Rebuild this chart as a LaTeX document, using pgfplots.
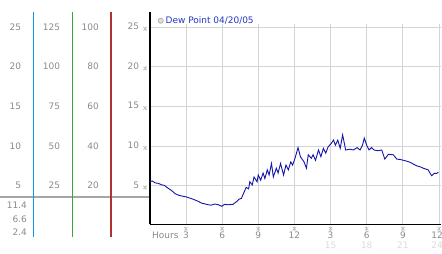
\documentclass[border=0pt]{standalone}
\usepackage{fontspec}
\setmainfont{DejaVu Sans}
\usepackage{pgfplots}
\pgfplotsset{compat=1.18}
\definecolor{tickgray}{HTML}{8A8A8A}
\definecolor{lightlab}{HTML}{DADADA}
\definecolor{gridgray}{HTML}{D4D4D4}
\definecolor{dewblue}{HTML}{1414A8}
\definecolor{titleblue}{HTML}{2236C0}
\definecolor{cyanline}{RGB}{20,150,230}
\definecolor{greenline}{RGB}{60,165,60}
\definecolor{redline}{RGB}{176,50,50}
\newcommand{\mk}{\tikz[baseline=-0.6bp]{\draw[gray!55, line width=0.5bp] (-1.8bp,-1.8bp)--(1.8bp,1.8bp) (-1.8bp,1.8bp)--(1.8bp,-1.8bp) (0,-2.2bp)--(0,2.2bp);}}
\newcommand{\lbl}{\fontsize{9}{11}\selectfont}
\newcommand{\xl}[2]{\mk\\[-1.5bp]#1\\[-1bp]\textcolor{lightlab}{#2}}
\newcommand{\yl}[1]{#1\hspace{4bp}\mk}
\begin{document}
\begin{tikzpicture}[x=1bp,y=1bp]
\path[use as bounding box] (0,0) rectangle (442,253);
\draw[gray!70, line width=1.8bp] (0,56) -- (149.8,56);
\pgfplotsset{leftscale/.style={scale only axis, width=1bp, height=225bp, anchor=south west,
  axis x line=none, axis y line=left, ytick style={draw=none}, major tick length=0pt,
  axis line style={draw=none},
  yticklabel style={anchor=east, inner sep=0pt, xshift=-12bp, font=\lbl, text=tickgray},
  xmin=0, xmax=1}}
\begin{axis}[leftscale, at={(33.3bp,16bp)}, ymin=-1.461, ymax=26.877,
  ytick={5,10,15,20,25}, yticklabels={5,10,15,20,25}]
\end{axis}
\begin{axis}[leftscale, at={(72.3bp,16bp)}, ymin=-7.305, ymax=134.385,
  ytick={25,50,75,100,125}, yticklabels={25,50,75,100,125}]
\end{axis}
\begin{axis}[leftscale, at={(111bp,16bp)}, ymin=-5.844, ymax=107.508,
  ytick={20,40,60,80,100}, yticklabels={20,40,60,80,100}]
\end{axis}
\begin{axis}[scale only axis, width=291bp, height=200bp, at={(149.8bp,29bp)}, anchor=south west,
  xmin=0, xmax=24.15, ymin=0.176, ymax=25.37, clip=false,
  axis lines*=left, axis line style={-},
  x axis line style={black, line width=1bp},
  y axis line style={black, line width=1.4bp, shorten >=-12bp},
  grid=major, grid style={gridgray, line width=0.8bp},
  tick style={draw=none}, major tick length=0pt,
  xtick={3,6,9,12,15,18,21,24},
  xticklabels={{\xl{3}{}},{\xl{6}{}},{\xl{9}{}},{\xl{12}{}},{\xl{3}{15}},{\xl{6}{18}},{\xl{9}{21}},{\xl{12\kern4bp}{24\kern4bp}}},
  xticklabel style={anchor=north, align=center, inner sep=0pt, yshift=-2bp, font=\lbl, text=tickgray},
  ytick={5,10,15,20,25},
  yticklabels={{\yl{5}},{\yl{10}},{\yl{15}},{\yl{20}},{\yl{25}}},
  yticklabel style={anchor=east, inner sep=0pt, xshift=-2.5bp, font=\lbl, text=tickgray}]
\addplot[dewblue, line width=0.9bp] coordinates {
(0.0,5.5) (0.2,5.6) (0.45,5.35) (0.7,5.3) (1.0,5.1) (1.2,5.05) (1.5,4.7) (1.8,4.4)
(2.1,4.0) (2.4,3.8) (2.65,3.7) (3.0,3.6) (3.2,3.5) (3.5,3.35) (3.75,3.2) (4.0,3.05)
(4.3,2.8) (4.6,2.7) (4.85,2.6) (5.1,2.55) (5.4,2.7) (5.7,2.6) (5.97,2.4) (6.2,2.65)
(6.5,2.6) (6.9,2.65) (7.2,3.0) (7.4,3.3) (7.6,3.4) (7.8,4.1) (8.0,4.8) (8.2,4.6)
(8.3,5.5) (8.5,5.1) (8.65,6.1) (8.9,5.5) (9.0,6.35) (9.2,5.7) (9.4,6.6) (9.55,5.9)
(9.75,7.0) (9.9,6.35) (10.1,7.8) (10.25,6.1) (10.5,7.2) (10.65,6.6) (10.85,7.8) (11.1,6.35)
(11.3,7.6) (11.5,7.0) (11.7,8.0) (11.85,7.6) (12.05,8.45) (12.3,9.8) (12.5,8.65) (12.8,8.0)
(13.0,7.2) (13.15,8.9) (13.4,8.45) (13.55,8.9) (13.75,8.2) (14.0,9.5) (14.2,8.65) (14.4,9.7)
(14.6,9.1) (14.8,9.9) (15.05,10.3) (15.25,10.75) (15.4,10.1) (15.6,10.75) (15.8,9.7) (16.0,11.4)
(16.15,10.3) (16.25,9.5) (16.6,9.6) (16.9,9.5) (17.2,9.8) (17.45,9.5) (17.65,10.1) (17.8,11.0)
(18.0,10.1) (18.2,9.5) (18.4,9.8) (18.6,9.5) (18.95,9.4) (19.25,9.5) (19.5,8.35) (19.8,8.95)
(20.2,8.9) (20.5,8.35) (20.8,8.3) (21.05,8.2) (21.3,8.1) (21.6,7.95) (21.9,7.7) (22.15,7.5)
(22.4,7.4) (22.7,7.2) (22.9,7.1) (23.1,7.0) (23.25,6.6) (23.4,6.25) (23.6,6.55) (23.8,6.55)
(23.95,6.7)
};
\end{axis}
\draw[cyanline, line width=1.6bp] (33.3,16) -- (33.3,241);
\draw[greenline, line width=1.3bp] (72.3,16) -- (72.3,241);
\draw[redline, line width=1.3bp] (111,16) -- (111,241);
\node[anchor=west, inner sep=0pt, font=\lbl, text=tickgray] at (152,18) {Hours};
\draw[gray!70, fill=gray!25, line width=0.6bp] (160.7,232.3) circle (2.6);
\node[anchor=west, inner sep=0pt, font=\lbl, text=titleblue] at (165.5,232.3) {Dew Point 04/20/05};
\node[anchor=east, inner sep=0pt, font=\lbl, text=tickgray] at (27,48) {11.4};
\node[anchor=east, inner sep=0pt, font=\lbl, text=tickgray] at (27,33.7) {6.6};
\node[anchor=east, inner sep=0pt, font=\lbl, text=tickgray] at (27,20.7) {2.4};
\end{tikzpicture}
\end{document}
